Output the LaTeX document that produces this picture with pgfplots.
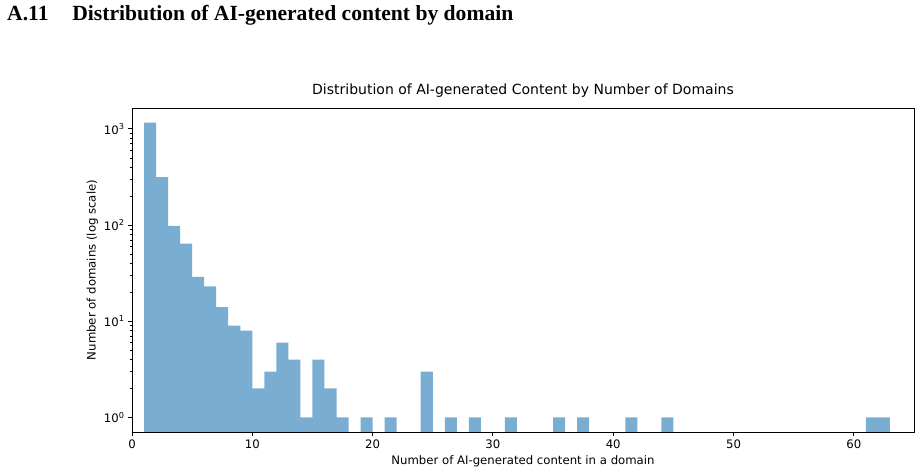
\documentclass[border=0pt]{standalone}
\usepackage{pgfplots}
\pgfplotsset{compat=1.18}
\usepackage{fontspec}
\setmainfont{Liberation Serif}
\newfontfamily\dejavu{DejaVu Sans}
\definecolor{barblue}{RGB}{121,173,210}
\begin{document}
\begin{tikzpicture}[x=1pt,y=1pt]
\useasboundingbox (0,0) rectangle (922,474);
\node[anchor=base west, inner sep=0pt, font=\bfseries\fontsize{21.6}{24}\selectfont] at (7,453) {A.11\hspace{1.1em}Distribution of AI-generated content by domain};
\begin{axis}[
  at={(132pt,42pt)}, anchor=south west,
  scale only axis, width=782pt, height=324pt,
  xmin=0, xmax=65,
  ymode=log, ymin=0.705, ymax=1650, log origin y=infty,
  xtick={0,10,20,30,40,50,60},
  ytick={1,10,100,1000},
  yticklabels={10\textsuperscript{0},10\textsuperscript{1},10\textsuperscript{2},10\textsuperscript{3}},
  xtick pos=bottom, ytick pos=left,
  tick align=outside,
  major tick length=4pt, minor tick length=2.3pt,
  every tick/.style={black, line width=0.9pt},
  minor tick style={black, line width=0.7pt},
  axis line style={line width=0.9pt},
  /pgf/number format/assume math mode=true,
  tick label style={font=\dejavu\fontsize{11.7}{14}\selectfont},
  xticklabel style={anchor=base, yshift=-13pt},
  title={Distribution of AI-generated Content by Number of Domains},
  title style={font=\dejavu\fontsize{14}{16}\selectfont, at={([yshift=7.5pt]axis description cs:0.5,1)}, anchor=base, inner sep=0pt},
  xlabel={Number of AI-generated content in a domain},
  xlabel style={font=\dejavu\fontsize{11.7}{14}\selectfont, at={([yshift=-33pt]axis description cs:0.5,0)}, anchor=base, inner sep=0pt},
  ylabel={Number of domains (log scale)},
  ylabel style={font=\dejavu\fontsize{11.7}{14}\selectfont, at={([xshift=-36.5pt]axis description cs:0,0.5)}, anchor=base, inner sep=0pt},
]
\addplot[ybar, bar width=1, bar shift=0pt, fill=barblue, draw=none] coordinates {
(1.5,1160) (2.5,315) (3.5,98) (4.5,64) (5.5,29) (6.5,23) (7.5,14) (8.5,9) (9.5,8)
(10.5,2) (11.5,3) (12.5,6) (13.5,4) (14.5,1) (15.5,4) (16.5,2) (17.5,1)
(19.5,1) (21.5,1) (24.5,3) (26.5,1) (28.5,1) (31.5,1) (35.5,1) (37.5,1)
(41.5,1) (44.5,1) (61.5,1) (62.5,1)
};
\end{axis}
\end{tikzpicture}
\end{document}
